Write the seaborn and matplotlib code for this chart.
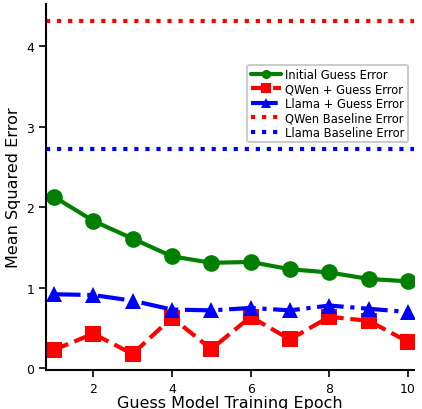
import matplotlib.pyplot as plt
import pandas as pd
import seaborn as sns

epochs = [1, 2, 3, 4, 5, 6, 7, 8, 9, 10]
initial_guess = [2.13, 1.83, 1.61, 1.39, 1.31, 1.32, 1.23, 1.19, 1.11, 1.08]
qwen_guess = [0.23, 0.43, 0.18, 0.63, 0.24, 0.64, 0.36, 0.64, 0.59, 0.33]
llama_guess = [0.92, 0.91, 0.84, 0.73, 0.72, 0.75, 0.72, 0.78, 0.74, 0.70]
qwen_baseline = 4.31
llama_baseline = 2.72

df = pd.DataFrame({"epoch": epochs, "initial": initial_guess,
                   "qwen": qwen_guess, "llama": llama_guess})

sns.set_style("ticks")
plt.rcParams["font.family"] = ["DejaVu Sans"]
plt.rcParams["text.color"] = "black"
plt.rcParams["axes.labelcolor"] = "black"
plt.rcParams["xtick.color"] = "black"
plt.rcParams["ytick.color"] = "black"
plt.rcParams["axes.edgecolor"] = "black"

fig, ax = plt.subplots(figsize=(4.22, 4.10), dpi=100)

sns.lineplot(data=df, x="epoch", y="initial", ax=ax, color="green", marker="o",
             markersize=12, linewidth=3, markeredgewidth=0, label="Initial Guess Error")
sns.lineplot(data=df, x="epoch", y="qwen", ax=ax, color="red", marker="s",
             markersize=12, linewidth=3, markeredgewidth=0, linestyle="--",
             label="QWen + Guess Error")
sns.lineplot(data=df, x="epoch", y="llama", ax=ax, color="blue", marker="^",
             markersize=12, linewidth=3, markeredgewidth=0, linestyle="-.",
             label="Llama + Guess Error")
ax.axhline(qwen_baseline, color="red", linestyle=":", linewidth=3,
           label="QWen Baseline Error")
ax.axhline(llama_baseline, color="blue", linestyle=":", linewidth=3,
           label="Llama Baseline Error")

ax.set_xlim(0.8, 10.15)
ax.set_ylim(-0.02, 4.52)
ax.set_xticks([2, 4, 6, 8, 10])
ax.set_yticks([0, 1, 2, 3, 4])
ax.tick_params(labelsize=9, length=5, width=1.2)
ax.set_xlabel("Guess Model Training Epoch", fontsize=11.5, labelpad=0)
ax.set_ylabel("Mean Squared Error", fontsize=11.5)
sns.despine(ax=ax)
for s in ["left", "bottom"]:
    ax.spines[s].set_linewidth(1.5)

leg = ax.legend(loc="upper right", bbox_to_anchor=(1.0, 0.85), fontsize=8.3,
                handlelength=2.6, borderpad=0.3, labelspacing=0.12,
                handletextpad=0.4, markerscale=0.55, framealpha=1)
leg.get_frame().set_edgecolor("#cccccc")
leg.get_frame().set_linewidth(1.5)

fig.subplots_adjust(left=0.109, right=0.981, bottom=0.095, top=0.988)
fig.savefig("out.png", dpi=100)
